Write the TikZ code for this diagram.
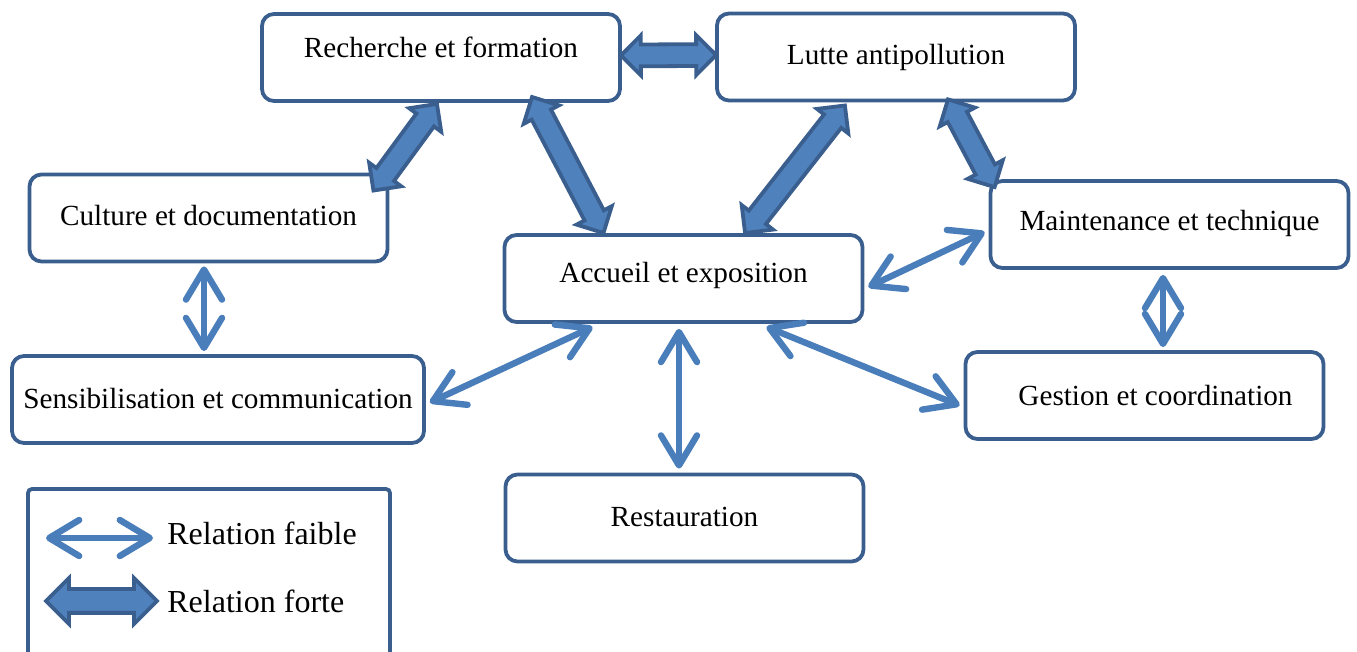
\documentclass[tikz,border=0pt]{standalone}
\usepackage{fontspec}
\setmainfont{Liberation Serif}
\usetikzlibrary{calc,shapes.arrows,arrows.meta}
\definecolor{cadre}{HTML}{3A5F8F}
\definecolor{fleche}{HTML}{4A7EBB}
\definecolor{bloc}{HTML}{4F81BD}

% block arrow laid between two points
\newcommand\relforte[3][]{%
  \path let \p1=($(#3)-(#2)$), \n1={atan2(\y1,\x1)}, \n2={veclen(\x1,\y1)} in
    node[forte, minimum height=\n2, rotate=\n1, #1] at ($(#2)!.5!(#3)$) {};}

\begin{document}
\begin{tikzpicture}[x=0.5pt, y=-0.5pt,
  boite/.style={draw=cadre, line width=1.9pt, rounded corners=6pt, fill=white,
    minimum width=179pt, minimum height=43.5pt, inner sep=0pt,
    font=\fontsize{14.6}{17}\selectfont},
  faible/.style={draw=fleche, line width=3.2pt, line cap=round,
    >={Straight Barb[length=15pt,width=18pt,round]}, <->},
  forte/.style={double arrow, draw=cadre, fill=bloc, line width=1.9pt,
    inner sep=4.5pt, double arrow head extend=4.5pt, double arrow tip angle=90},
  legende/.style={anchor=west, inner sep=0pt, font=\fontsize{16}{19}\selectfont}]
  \useasboundingbox (0,0) rectangle (1357,652);

  % boxes
  \node[boite] (rf) at (441,57.5) {\raisebox{10pt}{Recherche et formation}};
  \node[boite] (la) at (896,57) {Lutte antipollution};
  \node[boite] (cd) at (208.5,218) {\raisebox{3pt}{Culture et documentation}};
  \node[boite] (ae) at (683.5,278.5) {\raisebox{6pt}{Accueil et exposition}};
  \node[boite] (mt) at (1169.5,224.5) {\raisebox{4pt}{Maintenance et technique}};
  \node[boite, minimum width=206pt] (sc) at (218,399.5) {\raisebox{1.5pt}{Sensibilisation et communication}};
  \node[boite] (gc) at (1144.5,395.5) {\hspace{11pt}Gestion et coordination};
  \node[boite] (re) at (684.5,518) {\raisebox{1pt}{Restauration}};

  % weak relations
  \draw[faible] ($(cd.south)+(-4.5,3)$) -- ($(sc.north)+(-14,-3)$);
  \draw[faible] ($(ae.south)+(-91,3)$) -- ($(sc.east)+(4,3)$);
  \draw[faible] ($(ae.south)+(-4.5,5)$) -- ($(re.north)+(-5.5,-4)$);
  \draw[faible] ($(ae.south)+(83,3)$) -- ($(gc.west)+(-4,10)$);
  \draw[faible] ($(ae.east)+(4,8.5)$) -- ($(mt.west)+(-4,7.5)$);
  \draw[faible] ($(mt.south)+(-6.5,5)$) -- ($(gc.north)+(18.5,-3)$);

  % strong relations
  \coordinate (f1) at ($(rf.east)+(-1,-2)$);
  \coordinate (f2) at ($(la.west)+(1,-2)$);
  \coordinate (f3) at ($(rf.south)+(-4,1)$);
  \coordinate (f4) at ($(cd.north east)+(-16,18)$);
  \coordinate (f5) at ($(rf.south)+(91,-6)$);
  \coordinate (f6) at ($(ae.north)+(-80,0)$);
  \coordinate (f7) at ($(la.south)+(-51,3)$);
  \coordinate (f8) at ($(ae.north)+(61.5,0)$);
  \coordinate (f9) at ($(la.south)+(52,-3)$);
  \coordinate (f10) at ($(mt.north west)+(6,8)$);
  \relforte{f1}{f2}
  \relforte{f3}{f4}
  \relforte{f5}{f6}
  \relforte{f7}{f8}
  \relforte{f9}{f10}

  % legend
  \draw[cadre, line width=1.9pt, rounded corners=2pt] (28,670) -- (28,489) -- (390,489) -- (390,670);
  \coordinate (l1) at (46,538);
  \coordinate (l2) at (153,538);
  \coordinate (l3) at (46,601);
  \coordinate (l4) at (157,601);
  \draw[faible] (l1) -- (l2);
  \relforte[inner sep=5pt, double arrow head extend=5.5pt]{l3}{l4}
  \node[legende] (tf) at (167,533) {Relation faible};
  \node[legende] (tr) at (167,601) {Relation forte};
\end{tikzpicture}
\end{document}
